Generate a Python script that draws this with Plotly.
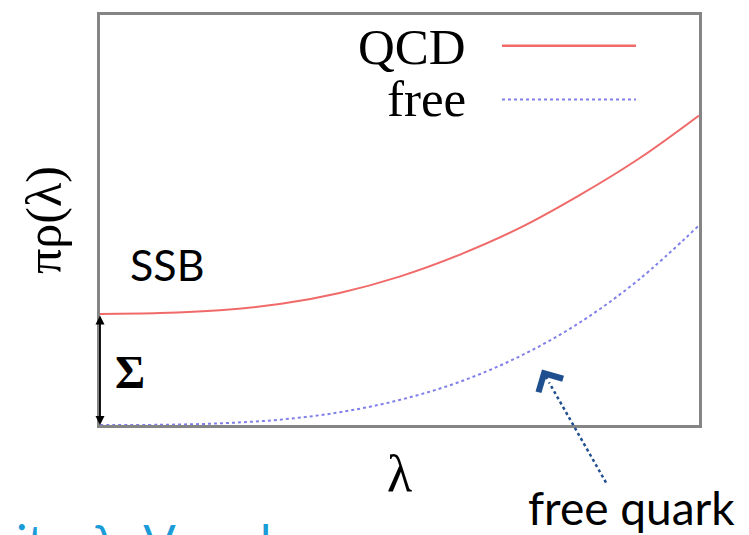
import plotly.graph_objects as go

# Data (normalised axes 0..1)
lam = [0.0, 0.1, 0.2, 0.3, 0.4, 0.5, 0.6, 0.7, 0.8, 0.9, 1.0]
rho_qcd = [0.271, 0.273, 0.280, 0.295, 0.322, 0.362, 0.415, 0.480, 0.560, 0.650, 0.755]
rho_free = [0.0, 0.0005, 0.004, 0.013, 0.031, 0.061, 0.105, 0.167, 0.249, 0.355, 0.487]
series_names = ["QCD", "free"]

W, H = 749, 535
L, R, T, B = 100, 50, 12, 110
pw, ph = W - L - R, H - T - B

def px(x):
    return (x - L) / pw

def py(y):
    return (H - B - y) / ph

red = "#f06a6a"
blue = "#8080ea"
dark_blue = "#1f4f8f"
serif = "Liberation Serif, Times New Roman, serif"
sans = "Lato, sans-serif"

fig = go.Figure()
fig.add_trace(go.Scatter(x=lam, y=rho_qcd, mode="lines", name=series_names[0],
                         line=dict(color=red, width=2, shape="spline"), showlegend=False))
fig.add_trace(go.Scatter(x=lam, y=rho_free, mode="lines", name=series_names[1],
                         line=dict(color=blue, width=2, dash="dot", shape="spline"), showlegend=False))

ann = []
shapes = []
# legend (manual: text left, sample right)
ann.append(dict(text=series_names[0], x=px(468), y=py(44), xref="paper", yref="paper",
                xanchor="right", yanchor="middle", showarrow=False,
                font=dict(family=serif, size=51, color="black")))
ann.append(dict(text=series_names[1], x=px(468), y=py(97), xref="paper", yref="paper",
                xanchor="right", yanchor="middle", showarrow=False,
                font=dict(family=serif, size=51, color="black")))
shapes.append(dict(type="line", xref="paper", yref="paper", x0=px(502), x1=px(636),
                   y0=py(43), y1=py(43), line=dict(color=red, width=2.5)))
shapes.append(dict(type="line", xref="paper", yref="paper", x0=px(502), x1=px(636),
                   y0=py(97), y1=py(97), line=dict(color=blue, width=2, dash="dot")))

# SSB and Sigma labels
ann.append(dict(text="SSB", x=px(128), y=py(263), xref="paper", yref="paper",
                xanchor="left", yanchor="middle", showarrow=False,
                font=dict(family=sans, size=43, color="black")))
ann.append(dict(text="<b>Σ</b>", x=px(113), y=py(372), xref="paper", yref="paper",
                xanchor="left", yanchor="middle", showarrow=False,
                font=dict(family=serif, size=46, color="black")))
# double-headed arrow for Sigma
ann.append(dict(x=0, y=0, ax=0, ay=rho_qcd[0], xref="x", yref="y", axref="x", ayref="y",
                text="", showarrow=True, arrowhead=2, startarrowhead=2, arrowside="end+start",
                arrowsize=1, arrowwidth=1.8, arrowcolor="black"))

# free quark pointer: dotted line + chevron head
shapes.append(dict(type="line", xref="paper", yref="paper", x0=px(606), y0=py(483),
                   x1=px(549), y1=py(382), line=dict(color=dark_blue, width=2.5, dash="dot")))
ann.append(dict(x=px(542), y=py(369), xref="paper", yref="paper", ax=6, ay=11,
                text="", showarrow=True, arrowhead=4, arrowsize=1.8, arrowwidth=3,
                arrowcolor=dark_blue))
ann.append(dict(text="free quark", x=px(526), y=py(538), xref="paper", yref="paper",
                xanchor="left", yanchor="bottom", showarrow=False,
                font=dict(family=sans, size=46, color="black")))

# cut-off blue slide text at the bottom (cropped in the reference too)
ann.append(dict(text="ity  λ  V       l", x=px(14), y=py(512), xref="paper", yref="paper",
                xanchor="left", yanchor="top", showarrow=False,
                font=dict(family=sans, size=48, color="#1b9bd7")))

fig.update_layout(
    width=W, height=H,
    margin=dict(l=L, r=R, t=T, b=B),
    paper_bgcolor="white", plot_bgcolor="white",
    showlegend=False,
    annotations=ann, shapes=shapes,
    xaxis=dict(range=[0, 1], showgrid=False, zeroline=False, showticklabels=False, ticks="",
               showline=True, mirror=True, linecolor="#858585", linewidth=2.5,
               title=dict(text="λ", font=dict(family=serif, size=52, color="black"), standoff=28)),
    yaxis=dict(range=[0, 1], showgrid=False, zeroline=False, showticklabels=False, ticks="",
               showline=True, mirror=True, linecolor="#858585", linewidth=2.5,
               title=dict(text="πρ(λ)", font=dict(family=serif, size=50, color="black"), standoff=20)),
)

fig.write_html("out.html")
